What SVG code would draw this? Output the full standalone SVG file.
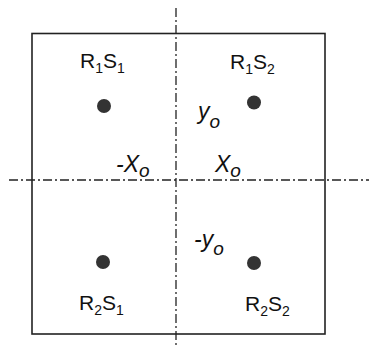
<svg xmlns="http://www.w3.org/2000/svg" width="369" height="347" viewBox="0 0 369 347">
<style>
.lbl{font-family:"Liberation Sans",Arial,sans-serif;font-size:21px;fill:#111}
.sub{font-size:14px}
.var{font-family:"Liberation Sans",Arial,sans-serif;font-size:23px;font-style:italic;fill:#111}
.vsub{font-size:19px}
.axis{stroke:#222;stroke-width:1.3;fill:none;stroke-dasharray:9 3 2 3}
.dot{fill:#333}
</style>
<rect width="369" height="347" fill="#fff"/>
<g id="frame"><rect x="32" y="33.5" width="293" height="300.5" fill="none" stroke="#222" stroke-width="1.6"/></g>
<g id="connectors">
<line class="axis" x1="176" y1="8" x2="176" y2="347"/>
<line class="axis" x1="9" y1="180" x2="369" y2="180"/>
</g>
<g id="R1S1"><circle class="dot" cx="104" cy="106" r="7"/><text class="lbl" x="80" y="68">R<tspan class="sub" dy="5">1</tspan><tspan dy="-5">S</tspan><tspan class="sub" dy="5">1</tspan></text></g>
<g id="R1S2"><circle class="dot" cx="254" cy="102.5" r="7"/><text class="lbl" x="230" y="69">R<tspan class="sub" dy="5">1</tspan><tspan dy="-5">S</tspan><tspan class="sub" dy="5">2</tspan></text></g>
<g id="R2S1"><circle class="dot" cx="103" cy="262" r="7"/><text class="lbl" x="79" y="310">R<tspan class="sub" dy="5">2</tspan><tspan dy="-5">S</tspan><tspan class="sub" dy="5">1</tspan></text></g>
<g id="R2S2"><circle class="dot" cx="254" cy="263" r="7"/><text class="lbl" x="245" y="311">R<tspan class="sub" dy="5">2</tspan><tspan dy="-5">S</tspan><tspan class="sub" dy="5">2</tspan></text></g>
<g id="yo"><text class="var" x="198" y="119">y<tspan class="vsub" dy="9">o</tspan></text></g>
<g id="neg-xo"><text class="var" x="116" y="172">-X<tspan class="vsub" dy="5">o</tspan></text></g>
<g id="xo"><text class="var" x="215" y="172">X<tspan class="vsub" dy="5">o</tspan></text></g>
<g id="neg-yo"><text class="var" x="194" y="247">-y<tspan class="vsub" dy="8">o</tspan></text></g>
</svg>
